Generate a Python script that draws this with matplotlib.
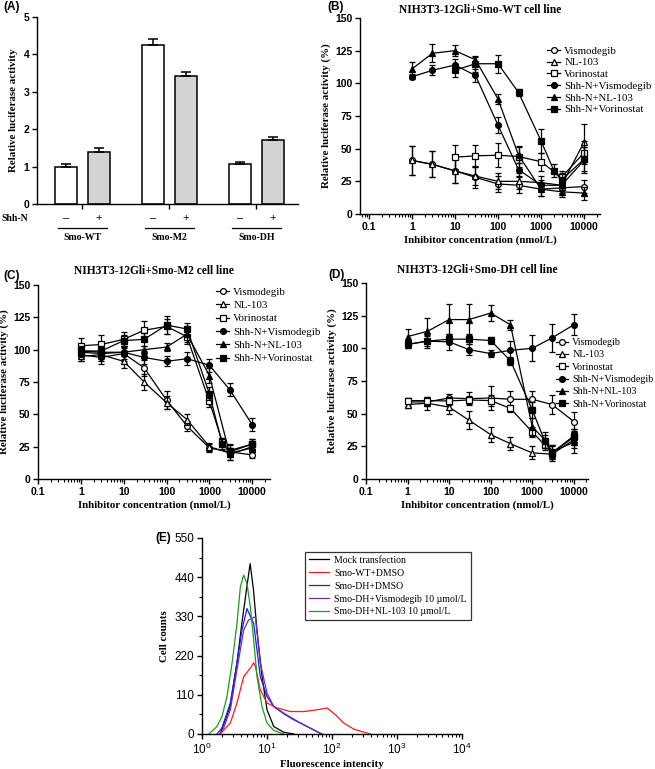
import numpy as np
import matplotlib
matplotlib.use('Agg')
import matplotlib.pyplot as plt
from matplotlib.ticker import FixedLocator, NullFormatter, LogLocator, MultipleLocator

SANS = 'Liberation Sans'
SERIF = 'Liberation Serif'
plt.rcParams['font.family'] = SANS
plt.rcParams['mathtext.fontset'] = 'custom'
plt.rcParams['mathtext.rm'] = SANS
plt.rcParams['mathtext.it'] = SANS
plt.rcParams['axes.linewidth'] = 1.0

# ---- (A) luciferase bars ----
a_groups = ['Smo-WT', 'Smo-M2', 'Smo-DH']
a_minus = [1.00, 4.26, 1.07]
a_minus_err = [0.06, 0.15, 0.05]
a_plus = [1.40, 3.43, 1.70]
a_plus_err = [0.09, 0.10, 0.08]

# ---- (B)-(D) dose response ----
series_names = ['Vismodegib', 'NL-103', 'Vorinostat',
                'Shh-N+Vismodegib', 'Shh-N+NL-103', 'Shh-N+Vorinostat']
conc9 = [1, 3, 10, 30, 100, 300, 1000, 3000, 10000]
conc10 = [1, 3, 10, 30, 100, 300, 1000, 2000, 3000, 10000]
dose_ticks = [0.1, 1, 10, 100, 1000, 10000]
dose_tick_labels = ['0.1', '1', '10', '100', '1000', '10000']

b_conc = [conc9, conc9, [10, 30, 100, 300, 1000, 3000, 10000],
          conc9, conc9, [10, 30, 100, 300, 1000, 2000, 3000, 10000]]
b_vals = [[41, 38, 33, 28, 23, 22, 19, 20, 21],
          [41, 38, 33, 29, 25, 25, 24, 22, 55],
          [43.5, 44.5, 45, 44, 40, 28, 47],
          [105, 110, 114, 106, 68, 34, 22, 22, 41],
          [111, 123, 125, 118, 88, 45, 19, 17, 16],
          [110, 115, 115, 93, 56, 33, 26, 42]]
b_errs = [[11, 10, 9, 8, 6, 6, 5, 4, 5],
          [11, 10, 9, 7, 6, 6, 5, 4, 14],
          [9, 8, 9, 8, 7, 5, 9],
          [2, 4, 5, 5, 6, 5, 4, 4, 10],
          [5, 7, 4, 2, 4, 6, 5, 4, 5],
          [5, 6, 7, 3, 9, 5, 5, 9]]

c_conc = [conc9, conc9, conc10, conc9, conc9, conc10]
c_vals = [[96, 94, 97, 86, 61, 41, 24, 21, 18.6],
          [95, 96, 91, 75, 59, 46, 25, 20, 24],
          [103, 104, 108, 115, 118, 110, 60, 29, 22, 27],
          [98, 97, 98, 94, 91, 93, 88, 69, 42],
          [99, 98, 98, 100, 102, 112, 80, 19, 25],
          [99, 99, 107, 108, 119, 116, 66, 27, 21, 27]]
c_errs = [[5, 5, 6, 6, 7, 4, 3, 3, 2],
          [4, 5, 5, 6, 5, 4, 3, 3, 3],
          [6, 7, 6, 7, 6, 6, 4, 3, 4, 4],
          [4, 4, 5, 5, 4, 5, 5, 5, 5],
          [3, 3, 3, 3, 3, 6, 6, 4, 4],
          [4, 4, 4, 5, 7, 5, 5, 4, 6, 4]]

d_conc = [conc9, conc9, conc10, conc9, conc10, conc10]
d_vals = [[59, 59, 62, 61.5, 62, 61, 61, 57, 44],
          [57, 58, 55, 45, 34, 27, 20, 19, 30],
          [60, 60, 59.7, 60.5, 60, 54, 36, 26, 20, 33],
          [103, 105.5, 105, 99, 96, 98.5, 100, 108, 118],
          [109, 113, 122, 122, 127, 118, 40, 30, 21, 28],
          [103, 105.5, 107, 107, 106, 90.5, 53, 29, 20, 32]]
d_errs = [[3, 3, 3, 5, 9, 6, 6, 7, 7],
          [3, 5, 5, 7, 6, 5, 5, 4, 6],
          [2, 3, 3, 3, 4, 3, 4, 4, 5, 5],
          [3, 5, 6, 4, 3, 7, 10, 11, 8],
          [6, 10, 12, 12, 6, 4, 7, 6, 5, 8],
          [3, 4, 4, 4, 3, 3, 6, 5, 6, 6]]

# ---- (E) flow cytometry histograms ----
e_names = ['Mock transfection', 'Smo-WT+DMSO', 'Smo-DH+DMSO',
           'Smo-DH+Vismodegib 10 µmol/L', 'Smo-DH+NL-103 10 µmol/L']
e_colors = ['black', '#ff1a1a', '#1a1aff', '#7a2aa8', '#1f9a1f']
mock_x = [1.9, 2.7, 3.45, 4.1, 4.9, 5.5, 6.2, 7.0, 8.4, 10, 12.7, 18, 26]
mock_y = [0, 77, 200, 310, 413, 478, 404, 292, 161, 68, 21, 5, 0]
wt_x = [1.9, 2.73, 3.45, 4.38, 5.54, 6.24, 6.62, 7.89, 10, 14.3, 22.9, 36.6,
        58.8, 83.8, 113, 151, 215, 307, 389]
wt_y = [0, 31, 87, 161, 185, 200, 190, 124, 87, 73, 63, 63, 68, 73, 54, 31,
        14, 5, 0]
dh_x = [1.7, 2.03, 2.73, 3.45, 4.12, 4.92, 6.24, 7.89, 10, 12.7, 18, 25.7,
        36.6, 58.8, 70]
dh_y = [0, 17, 87, 199, 292, 352, 310, 161, 105, 77, 57, 40, 26, 7, 0]
vis_x = [1.9, 2.15, 2.73, 3.45, 4.38, 5.22, 6.62, 7.89, 10, 12.7, 18, 25.7,
         36.6, 58.8, 70]
vis_y = [0, 17, 68, 180, 292, 320, 329, 199, 115, 77, 59, 42, 26, 6, 0]
nl_x = [1.27, 1.7, 2.03, 2.42, 2.9, 3.45, 3.89, 4.38, 4.92, 5.54, 6.24, 7.02,
        8.37, 10, 12.7, 18]
nl_y = [0, 21, 49, 105, 199, 310, 413, 446, 422, 357, 264, 161, 77, 31, 10, 0]

W, H = 655, 769
fig = plt.figure(figsize=(W / 100, H / 100), dpi=100)


def px_axes(l, t, r, b):
    return fig.add_axes([l / W, 1 - b / H, (r - l) / W, (b - t) / H])


def bold_ticks(ax):
    for lab in ax.get_xticklabels() + ax.get_yticklabels():
        lab.set_fontweight('bold')


def panel_label(x, y, s):
    fig.text(x / W, 1 - y / H, s, fontsize=8.5, fontweight='bold', va='center')


# (A)
ax = px_axes(37, 17, 298, 204)
xg = np.arange(3)
off, bw = 0.19, 0.25
ax.bar(xg - off, a_minus, bw, color='white', edgecolor='black', lw=1.1, zorder=2)
ax.bar(xg + off, a_plus, bw, color='#d3d3d3', edgecolor='black', lw=1.1, zorder=2)
ax.errorbar(xg - off, a_minus, yerr=[np.zeros(3), a_minus_err], fmt='none',
            ecolor='black', elinewidth=1.1, capsize=3.5, capthick=1.1)
ax.errorbar(xg + off, a_plus, yerr=[np.zeros(3), a_plus_err], fmt='none',
            ecolor='black', elinewidth=1.1, capsize=3.5, capthick=1.1)
ax.set_xlim(-0.52, 2.48)
ax.set_ylim(0, 5)
ax.set_xticks(xg)
ax.set_xticklabels([])
ax.set_yticks(range(6))
ax.tick_params(direction='out', length=3.5, width=1, labelsize=7.5, pad=2)
bold_ticks(ax)
ax.spines[['top', 'right']].set_visible(False)
ax.set_ylabel('Relative luciferase activity', fontfamily=SERIF,
              fontweight='bold', fontsize=7.8, labelpad=4)
trans = ax.get_xaxis_transform()
ax.text(-0.93, -0.075, 'Shh-N', transform=trans, fontfamily=SERIF,
        fontweight='bold', fontsize=7, ha='left', va='center')
for g in xg:
    ax.text(g - off, -0.075, '–', transform=trans, fontsize=8, ha='center', va='center')
    ax.text(g + off, -0.075, '+', transform=trans, fontsize=8, ha='center', va='center')
    ax.plot([g - 0.28, g + 0.28], [-0.128, -0.128], transform=trans,
            color='black', lw=0.9, clip_on=False)
    ax.text(g, -0.178, a_groups[g], transform=trans, fontfamily=SERIF,
            fontweight='bold', fontsize=7, ha='center', va='center')
panel_label(3, 7, '(A)')

markers = [('o', 'white'), ('^', 'white'), ('s', 'white'),
           ('o', 'black'), ('^', 'black'), ('s', 'black')]


def dose_panel(rect, title, tpad, conc, vals, errs, xlim, leg_xy, leg_space, leg_size):
    ax = px_axes(*rect)
    for name, (mk, fc), x, y, e in zip(series_names, markers, conc, vals, errs):
        ax.errorbar(x, y, yerr=e, fmt='none', ecolor='black', elinewidth=0.9,
                    capsize=2.3, capthick=0.9)
        ax.plot(x, y, color='black', lw=0.9, marker=mk, mfc=fc, mec='black',
                mew=0.9, ms=4.2, label=name)
    ax.set_xscale('log')
    ax.set_xlim(*xlim)
    ax.set_ylim(0, 150)
    ax.xaxis.set_major_locator(FixedLocator(dose_ticks))
    ax.set_xticklabels(dose_tick_labels)
    ax.xaxis.set_minor_locator(LogLocator(base=10, subs=np.arange(2, 10), numticks=30))
    ax.xaxis.set_minor_formatter(NullFormatter())
    ax.set_yticks(range(0, 151, 25))
    ax.tick_params(which='major', direction='out', length=3.5, width=1,
                   labelsize=7.5, pad=2)
    ax.tick_params(which='minor', direction='out', length=2, width=0.8)
    bold_ticks(ax)
    ax.spines[['top', 'right']].set_visible(False)
    ax.set_ylabel('Relative luciferase activity (%)', fontfamily=SERIF,
                  fontweight='bold', fontsize=7.8, labelpad=3)
    ax.set_xlabel('Inhibitor concentration (nmol/L)', fontfamily=SERIF,
                  fontweight='bold', fontsize=7.8, labelpad=3)
    ax.set_title(title, fontfamily=SERIF, fontweight='bold', fontsize=8.3, pad=tpad)
    ax.legend(loc='upper left', bbox_to_anchor=(leg_xy[0] / W, 1 - leg_xy[1] / H),
              bbox_transform=fig.transFigure, frameon=False,
              prop={'family': SERIF, 'size': leg_size}, handlelength=1.2,
              handletextpad=0.4, labelspacing=leg_space, borderpad=0,
              borderaxespad=0)
    return ax


dose_panel((360, 18, 600, 214), 'NIH3T3-12Gli+Smo-WT cell line', 3.5,
           b_conc, b_vals, b_errs, (0.062, 2.35e4), (547, 46), 0.2, 7.8)
panel_label(327, 7, '(B)')
dose_panel((38, 285, 270, 479), 'NIH3T3-12Gli+Smo-M2 cell line', 8,
           c_conc, c_vals, c_errs, (0.1, 2.6e4), (216, 287), 0.35, 7.8)
panel_label(3, 276, '(C)')
dose_panel((366, 283, 588, 479), 'NIH3T3-12Gli+Smo-DH cell line', 7,
           d_conc, d_vals, d_errs, (0.1, 2.2e4), (556, 338), 0.32, 7.3)
panel_label(328, 275, '(D)')

# (E)
ax = px_axes(202, 538, 462, 734)
for x, y, c, name in zip([mock_x, wt_x, dh_x, vis_x, nl_x],
                         [mock_y, wt_y, dh_y, vis_y, nl_y], e_colors, e_names):
    ax.plot(x, y, color=c, lw=0.9, label=name)
ax.set_xscale('log')
ax.set_xlim(1, 1e4)
ax.set_ylim(0, 550)
ax.set_yticks(range(0, 551, 110))
ax.yaxis.set_minor_locator(MultipleLocator(55))
ax.xaxis.set_minor_locator(LogLocator(base=10, subs=np.arange(2, 10), numticks=30))
ax.xaxis.set_minor_formatter(NullFormatter())
ax.tick_params(which='major', direction='out', length=3.5, width=1,
               labelsize=8.5, pad=2)
ax.tick_params(which='minor', direction='out', length=2, width=0.8)
ax.spines[['top', 'right']].set_visible(False)
ax.set_xlabel('Fluorescence intencity', fontfamily=SERIF, fontweight='bold',
              fontsize=7.8, labelpad=2)
ax.set_ylabel('Cell counts', fontfamily=SERIF, fontweight='bold',
              fontsize=7.8, labelpad=4)
leg = ax.legend(loc='upper left', bbox_to_anchor=(305 / W, 1 - 552 / H),
                bbox_transform=fig.transFigure, fancybox=False, edgecolor='#333333',
                framealpha=1, prop={'family': SERIF, 'size': 7.0},
                handlelength=2.1, handletextpad=0.5, labelspacing=0.4,
                borderpad=0.4, borderaxespad=0)
leg.get_frame().set_linewidth(0.9)
panel_label(155, 538, '(E)')

fig.savefig('out.png', dpi=100)
